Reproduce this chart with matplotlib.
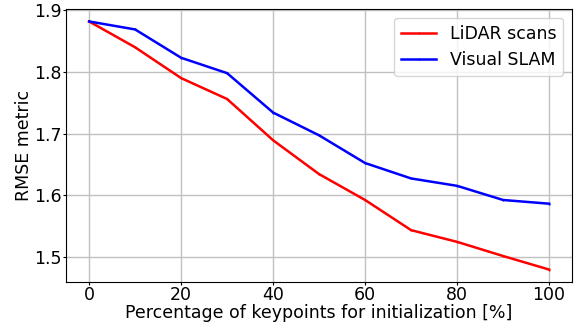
import numpy as np
import matplotlib
matplotlib.use('Agg')
import matplotlib.pyplot as plt

# data
pct = [0, 10, 20, 30, 40, 50, 60, 70, 80, 90, 100]
lidar = [1.882, 1.840, 1.790, 1.756, 1.689, 1.634, 1.592, 1.543, 1.524, 1.501, 1.479]
vslam = [1.882, 1.869, 1.823, 1.798, 1.734, 1.697, 1.652, 1.627, 1.615, 1.592, 1.586]

plt.rcParams['font.family'] = 'DejaVu Sans'
plt.rcParams['font.size'] = 12.5

fig, ax = plt.subplots(figsize=(5.75, 3.23), dpi=100)
ax.plot(pct, lidar, c='red', lw=1.8, marker='.', markersize=1, label='LiDAR scans')
ax.plot(pct, vslam, c='blue', lw=1.8, marker='.', markersize=1, label='Visual SLAM')

ax.set_xlabel('Percentage of keypoints for initialization [%]', labelpad=0)
ax.set_ylabel('RMSE metric', labelpad=0.5)
ax.set_yticks([1.5, 1.6, 1.7, 1.8, 1.9])
ax.grid(True, color='#c0c0c0', lw=1)
ax.tick_params(labelsize=12.5, length=2, pad=1.2)
ax.legend(loc='upper right', fontsize=12.5)

fig.subplots_adjust(left=0.115, right=0.995, top=0.972, bottom=0.127)
plt.savefig('out.png', dpi=100)
